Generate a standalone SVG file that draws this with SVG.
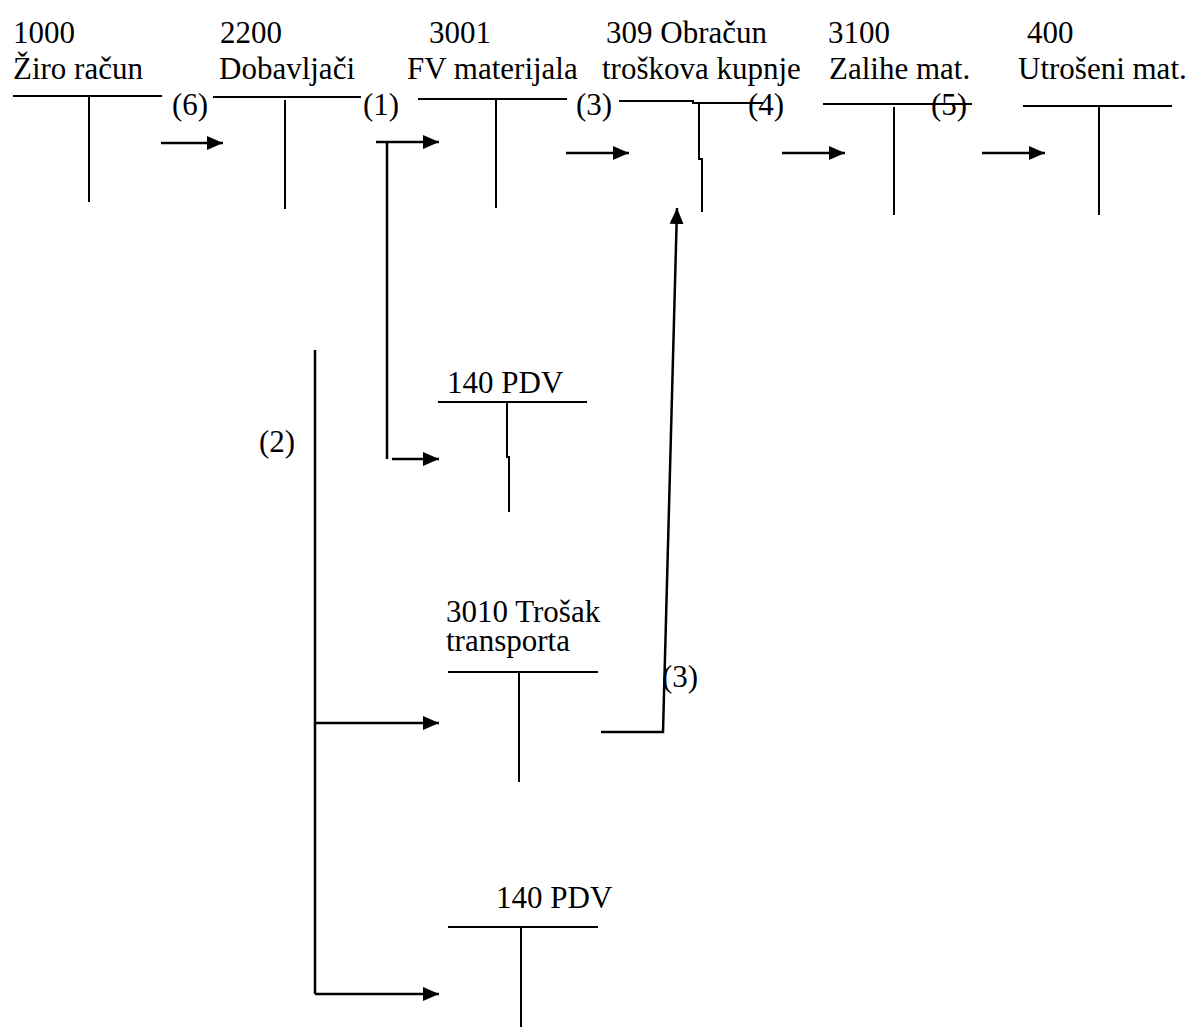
<svg xmlns="http://www.w3.org/2000/svg" width="1191" height="1029" viewBox="0 0 1191 1029">
<style>
text{font-family:'Liberation Serif',Tinos,'Times New Roman',Times,'DejaVu Serif',serif;font-size:31px;fill:#000}
.l{stroke:#000;stroke-width:2;fill:none}
.c{stroke:#000;stroke-width:2.5;fill:none}
</style>
<defs>
<marker id="ah" markerUnits="userSpaceOnUse" markerWidth="16" markerHeight="16" viewBox="0 0 16 16" refX="16" refY="8" orient="auto">
<polygon points="0,1 16,8 0,15" fill="#000"/>
</marker>
</defs>
<rect width="1191" height="1029" fill="#fff"/>
<g id="acc-1000">
<text x="13" y="43">1000</text>
<text x="13" y="79">Žiro račun</text>
<path class="l" d="M13 96H162M89 96V202"/>
</g>
<g id="acc-2200">
<text x="220" y="43">2200</text>
<text x="219" y="79">Dobavljači</text>
<path class="l" d="M213 97H361M285 100V209"/>
</g>
<g id="acc-3001">
<text x="429" y="43">3001</text>
<text x="407" y="79">FV materijala</text>
<path class="l" d="M418 99H567M496 99V208"/>
</g>
<g id="acc-309">
<text x="606" y="43">309 Obračun</text>
<text x="602" y="79">troškova kupnje</text>
<path class="l" d="M619 101H693V103H763M699 103V159H702V212"/>
</g>
<g id="acc-3100">
<text x="828" y="43">3100</text>
<text x="829" y="79">Zalihe mat.</text>
<path class="l" d="M823 104H972M894 107V215"/>
</g>
<g id="acc-400">
<text x="1027" y="43">400</text>
<text x="1018" y="79">Utrošeni mat.</text>
<path class="l" d="M1023 106H1172M1099 107V215"/>
</g>
<g id="acc-140a">
<text x="447" y="393">140 PDV</text>
<path class="l" d="M438 402H587M507 402V457H509V512"/>
</g>
<g id="acc-3010">
<text x="446" y="622">3010 Trošak</text>
<text x="446" y="651">transporta</text>
<path class="l" d="M448 672H598M519 672V782"/>
</g>
<g id="acc-140b">
<text x="496" y="908">140 PDV</text>
<path class="l" d="M448 927H598M521 927V1027"/>
</g>
<g id="connectors">
<path class="c" d="M161 143H223" marker-end="url(#ah)"/>
<path class="c" d="M376 142H439" marker-end="url(#ah)"/>
<path class="c" d="M387 142V459"/>
<path class="c" d="M392 459H439" marker-end="url(#ah)"/>
<path class="c" d="M566 153H629" marker-end="url(#ah)"/>
<path class="c" d="M782 153H845" marker-end="url(#ah)"/>
<path class="c" d="M982 153H1045" marker-end="url(#ah)"/>
<path class="c" d="M601 732H663L677 208" marker-end="url(#ah)"/>
<path class="c" d="M315 350V994"/>
<path class="c" d="M315 723H439" marker-end="url(#ah)"/>
<path class="c" d="M315 994H439" marker-end="url(#ah)"/>
<text x="172" y="115">(6)</text>
<text x="363" y="115">(1)</text>
<text x="576" y="115">(3)</text>
<text x="748" y="115">(4)</text>
<text x="931" y="115">(5)</text>
<text x="259" y="452">(2)</text>
<text x="662" y="687">(3)</text>
</g>
</svg>
